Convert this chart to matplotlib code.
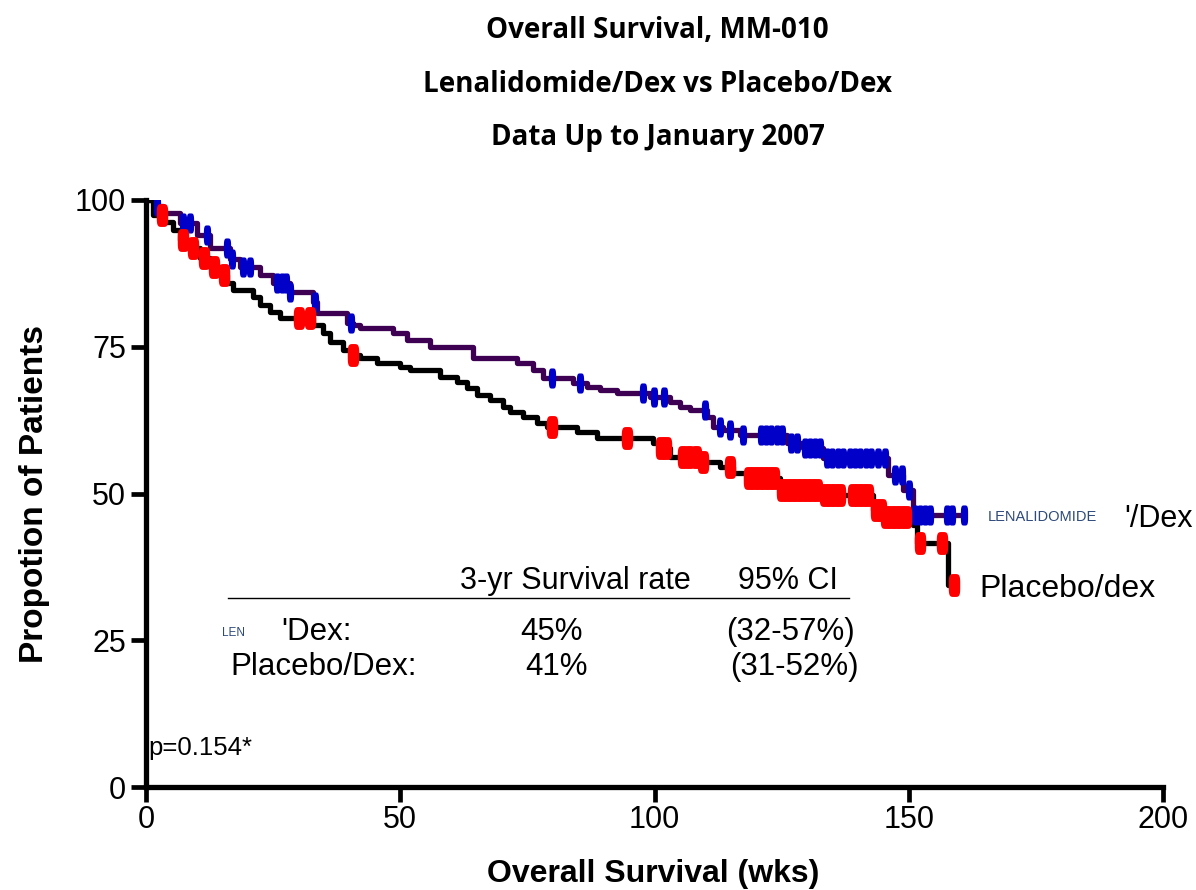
import matplotlib
matplotlib.use("Agg")
import matplotlib.pyplot as plt
import numpy as np
from matplotlib.path import Path
from matplotlib import font_manager

# Kaplan-Meier steps (weeks, % surviving)
len_t = [0, 1.8, 3.3, 6.6, 10.0, 12.6, 16.5, 18.5, 22.4, 25.0, 28.3, 32.8, 33.6,
         39.5, 40.8, 42.1, 48.6, 51.3, 55.8, 64.3, 73.0, 76.1, 78.1, 84.0, 86.7,
         89.3, 92.6, 99.1, 103.0, 105.0, 107.0, 110.3, 111.5, 113.5, 116.8, 126.0,
         129.2, 133.1, 145.9, 148.9, 150.8]
len_s = [100, 99.0, 97.8, 96.0, 94.0, 91.8, 90.0, 88.6, 87.2, 85.9, 84.3, 82.6, 80.7,
         79.0, 78.7, 78.2, 77.3, 76.1, 75.0, 73.1, 72.2, 71.0, 69.7, 68.8, 68.1,
         67.6, 67.1, 66.4, 65.6, 64.7, 64.2, 63.0, 61.3, 60.8, 60.0, 58.6,
         57.8, 56.0, 53.2, 50.6, 46.3]
len_end = 161

pla_t = [0, 1.4, 3.3, 5.3, 6.7, 8.7, 10.6, 12.6, 14.6, 15.9, 17.1, 21.0, 22.4, 24.4,
         26.4, 32.8, 34.8, 36.2, 38.7, 40.7, 42.1, 45.4, 50.0, 51.9, 57.8, 61.2,
         63.1, 65.1, 67.7, 70.2, 71.6, 74.1, 76.9, 78.9, 84.8, 88.7, 99.7, 101.1,
         103.0, 109.0, 112.9, 115.4, 118.2, 124.7, 133.1, 143.0, 145.0, 150.8,
         151.6, 157.7]
pla_s = [100, 97.4, 96.3, 94.9, 93.2, 91.8, 90.1, 88.6, 87.2, 85.9, 84.7, 83.5, 82.1, 80.9,
         79.9, 78.7, 77.3, 75.8, 74.4, 73.6, 73.1, 72.2, 71.6, 71.0, 69.8, 69.0,
         68.0, 66.8, 65.9, 64.7, 63.9, 63.0, 62.0, 61.3, 60.5, 59.5, 58.6, 57.7,
         56.2, 55.4, 54.5, 53.5, 52.6, 50.6, 49.7, 47.2, 46.0, 44.6,
         41.6, 34.4]
pla_end = 159

# censored observations (weeks)
len_cens = [2.2, 7.3, 8.7, 12.0, 16.0, 17.0, 19.0, 20.5, 25.8, 26.8, 27.5, 28.3, 33.2,
            40.4, 79.8, 85.3, 97.7, 99.9, 101.9, 110.0, 112.9, 114.8, 117.4, 121.0,
            122.0, 123.0, 124.0, 125.0, 126.8, 128.0, 129.5, 130.5, 131.5, 132.5,
            134.0, 135.0, 136.0, 137.0, 138.5, 139.5, 140.5, 141.5, 142.5, 144.0,
            145.3, 147.2, 148.6, 150.0, 151.3, 152.2, 153.2, 154.2, 157.5, 158.5, 160.8]
pla_cens = [3.1, 7.3, 9.2, 11.4, 13.4, 15.3, 30.1, 32.3, 40.7, 79.8, 94.6, 101.3, 102.2,
            105.6, 106.8, 108.2, 109.5, 114.8, 118.5, 119.5, 120.5, 121.5, 122.5, 123.5,
            125.0, 126.0, 127.0, 128.0, 129.0, 130.0, 131.0, 132.0, 133.5, 134.5, 135.5,
            136.5, 139.0, 140.0, 141.0, 142.0, 143.5, 144.5, 145.5, 146.5, 147.5, 148.5,
            149.5, 152.2, 156.5, 158.9]

x_ticks = [0, 50, 100, 150, 200]
y_ticks = [0, 25, 50, 75, 100]

title_lines = ["Overall Survival, MM-010", "Lenalidomide/Dex vs Placebo/Dex",
               "Data Up to January 2007"]

names = {f.name for f in font_manager.fontManager.ttflist}
narrow = "Liberation Sans Narrow" if "Liberation Sans Narrow" in names else "Open Sans"
plt.rcParams["font.family"] = ["Liberation Sans", "DejaVu Sans"]


# rounded upright bar used for the censor ticks (superellipse)
def bar_marker(ratio):
    th = np.linspace(0, 2 * np.pi, 60)
    c, s = np.cos(th), np.sin(th)
    x = ratio * np.sign(c) * np.abs(c) ** 0.5
    y = np.sign(s) * np.abs(s) ** 0.5
    return Path(np.column_stack([x, y]))


fig = plt.figure(figsize=(11.96, 8.9), dpi=100)
ax = fig.add_axes([0.1221, 0.1157, 0.8503, 0.6596])

ax.step(len_t + [len_end], len_s + [len_s[-1]], where="post", color="#3D0052", lw=3.8,
        solid_capstyle="butt", zorder=3)
ax.step(pla_t + [pla_end], pla_s + [pla_s[-1]], where="post", color="black", lw=3.8,
        solid_capstyle="butt", zorder=4)

lc = np.array(len_cens)
pc = np.array(pla_cens)
ax.plot(lc, np.array(len_s)[np.searchsorted(len_t, lc, side="right") - 1], ls="none",
        marker=bar_marker(0.36), ms=14.5, color="#0000C8", mew=0, zorder=5)
ax.plot(pc, np.array(pla_s)[np.searchsorted(pla_t, pc, side="right") - 1], ls="none",
        marker=bar_marker(0.5), ms=16.5, color="#FF0000", mew=0, zorder=6)

ax.set_xlim(0, 200)
ax.set_ylim(0, 100)
ax.set_xticks(x_ticks)
ax.set_yticks(y_ticks)
ax.spines[["top", "right"]].set_visible(False)
for s in ["left", "bottom"]:
    ax.spines[s].set_linewidth(3.8)
ax.tick_params(length=11, width=3.4, labelsize=22)
ax.tick_params(axis="x", pad=2)

ax.set_ylabel("Propotion of Patients", fontsize=24, fontweight="bold", labelpad=18)
fig.text(0.546, 0.018, "Overall Survival (wks)", ha="center", va="center", fontsize=23,
         fontweight="bold")

for i, line in enumerate(title_lines):
    fig.text(0.550, 0.966 - i * 0.0605, line, ha="center", va="center", fontsize=20,
             fontweight="bold", family=[narrow, "DejaVu Sans"])

# end-of-curve labels
ax.text(165.5, 46.0, "LENALIDOMIDE", fontsize=10.5, color="#2E4A7A", va="center")
ax.text(192.3, 45.6, "'/Dex", fontsize=22, va="center", clip_on=False)
ax.text(163.8, 33.8, "Placebo/dex", fontsize=23, va="center", clip_on=False)

# survival table
ax.plot([16.1, 138.3], [32.2, 32.2], color="black", lw=1.0)
ax.text(61.7, 32.6, "3-yr Survival rate", fontsize=22, va="bottom")
ax.text(116.5, 32.6, "95% CI", fontsize=22, va="bottom")
ax.text(14.9, 26.2, "LEN", fontsize=8.5, color="#2E4A7A", va="center")
ax.text(26.5, 26.4, "'Dex:", fontsize=22.5, va="center")
ax.text(79.8, 26.4, "45%", fontsize=22.5, va="center", ha="center")
ax.text(126.8, 26.4, "(32-57%)", fontsize=22.5, va="center", ha="center")
ax.text(16.5, 20.4, "Placebo/Dex:", fontsize=22.5, va="center")
ax.text(80.8, 20.4, "41%", fontsize=22.5, va="center", ha="center")
ax.text(127.6, 20.4, "(31-52%)", fontsize=22.5, va="center", ha="center")
ax.text(0.5, 6.6, "p=0.154*", fontsize=18.5, va="center")

fig.savefig("out.png", dpi=100)
